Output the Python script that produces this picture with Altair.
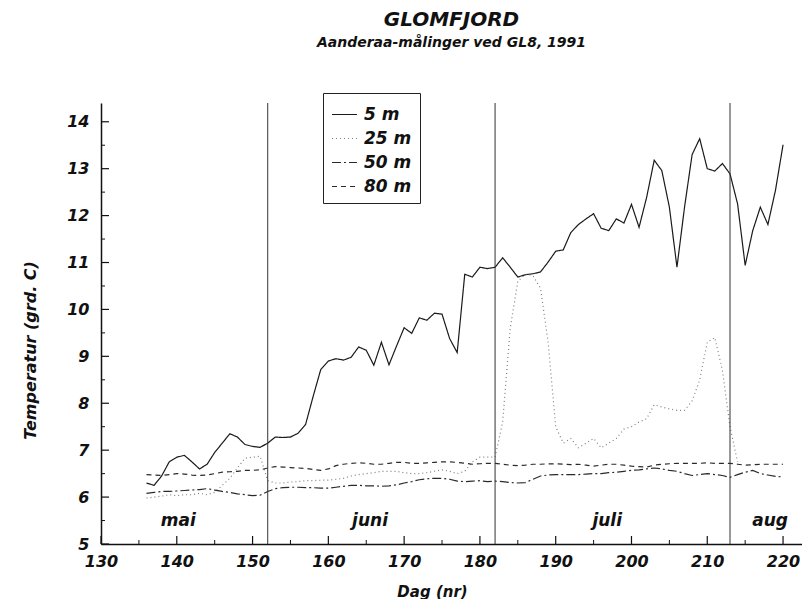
import altair as alt
import pandas as pd

FONT = "DejaVu Sans"

series = ["5 m", "25 m", "50 m", "80 m"]
series_colors = ["#1a1a1a", "#808080", "#2a2a2a", "#2a2a2a"]
series_dash = [[1, 0], [1, 3], [9, 3, 2, 3], [5, 4]]

days = list(range(136, 221))
t5 = [6.30, 6.25, 6.45, 6.75, 6.85, 6.89, 6.75, 6.60, 6.70, 6.95,
      7.15, 7.35, 7.28, 7.12, 7.08, 7.06, 7.15, 7.28, 7.27, 7.28,
      7.36, 7.55, 8.15, 8.72, 8.90, 8.95, 8.92, 8.98, 9.20, 9.13,
      8.81, 9.30, 8.82, 9.22, 9.61, 9.49, 9.82, 9.77, 9.92, 9.90,
      9.38, 9.08, 10.75, 10.69, 10.90, 10.87, 10.90, 11.10, 10.90, 10.69,
      10.74, 10.76, 10.80, 11.01, 11.24, 11.27, 11.64, 11.81, 11.93, 12.04,
      11.73, 11.68, 11.93, 11.84, 12.24, 11.75, 12.39, 13.18, 12.96, 12.18,
      10.90, 12.18, 13.30, 13.64, 13.00, 12.95, 13.11, 12.89, 12.25, 10.94,
      11.68, 12.18, 11.81, 12.54, 13.51]

days25 = list(range(136, 215))
t25 = [5.98, 6.00, 6.02, 6.05, 6.03, 6.05, 6.05, 6.08, 6.05, 6.10,
       6.25, 6.40, 6.62, 6.83, 6.85, 6.87, 6.35, 6.30, 6.30, 6.32,
       6.33, 6.35, 6.35, 6.36, 6.36, 6.38, 6.40, 6.45, 6.48, 6.50,
       6.52, 6.55, 6.55, 6.55, 6.52, 6.50, 6.50, 6.52, 6.55, 6.58,
       6.55, 6.50, 6.55, 6.75, 6.85, 6.85, 6.85, 7.60, 9.60, 10.60,
       10.75, 10.72, 10.45, 9.30, 7.50, 7.15, 7.25, 7.05, 7.15, 7.25,
       7.05, 7.15, 7.25, 7.45, 7.50, 7.60, 7.67, 7.97, 7.92, 7.88,
       7.85, 7.85, 8.05, 8.50, 9.30, 9.40, 8.70, 7.50, 6.75]

t50 = [6.08, 6.10, 6.12, 6.12, 6.13, 6.14, 6.15, 6.16, 6.18, 6.15,
       6.12, 6.10, 6.07, 6.05, 6.03, 6.04, 6.12, 6.18, 6.20, 6.21,
       6.21, 6.20, 6.20, 6.19, 6.19, 6.21, 6.23, 6.25, 6.25, 6.24,
       6.24, 6.23, 6.24, 6.26, 6.30, 6.33, 6.37, 6.39, 6.40, 6.40,
       6.38, 6.34, 6.33, 6.34, 6.35, 6.33, 6.34, 6.33, 6.31, 6.30,
       6.31, 6.38, 6.45, 6.47, 6.48, 6.48, 6.48, 6.48, 6.49, 6.50,
       6.50, 6.52, 6.53, 6.55, 6.57, 6.58, 6.60, 6.62, 6.60, 6.57,
       6.55, 6.50, 6.46, 6.48, 6.50, 6.48, 6.46, 6.42, 6.48, 6.53,
       6.57, 6.50, 6.47, 6.44, 6.43]

t80 = [6.48, 6.47, 6.46, 6.48, 6.50, 6.49, 6.47, 6.46, 6.47, 6.50,
       6.53, 6.54, 6.55, 6.57, 6.57, 6.58, 6.62, 6.65, 6.64, 6.63,
       6.62, 6.61, 6.59, 6.57, 6.60, 6.67, 6.70, 6.72, 6.73, 6.72,
       6.70, 6.70, 6.72, 6.74, 6.74, 6.72, 6.72, 6.73, 6.74, 6.75,
       6.75, 6.74, 6.72, 6.70, 6.71, 6.72, 6.72, 6.70, 6.68, 6.67,
       6.68, 6.70, 6.70, 6.71, 6.71, 6.70, 6.69, 6.70, 6.68, 6.66,
       6.68, 6.70, 6.70, 6.68, 6.66, 6.65, 6.64, 6.68, 6.70, 6.71,
       6.72, 6.72, 6.72, 6.72, 6.73, 6.72, 6.72, 6.72, 6.70, 6.68,
       6.69, 6.70, 6.70, 6.70, 6.70]

month_starts = [152, 182, 213]
month_names = ["mai", "juni", "juli", "aug"]
month_label_days = [140.2, 165.5, 196.8, 218.3]
month_label_temp = 5.5

x_major = list(range(130, 221, 10))
x_minor = list(range(135, 221, 10))
y_major = list(range(5, 15))
y_minor = [v + 0.5 for v in range(5, 14)]

W, H = 701, 441

rows = []
for name, dd, vals in [("5 m", days, t5), ("25 m", days25, t25),
                       ("50 m", days, t50), ("80 m", days, t80)]:
    for d, v in zip(dd, vals):
        rows.append({"Dag": d, "T": v, "Dybde": name})
df = pd.DataFrame(rows)

xs = alt.Scale(domain=[130, 222.5], nice=False, zero=False)
ys = alt.Scale(domain=[5, 14.4], nice=False, zero=False)

txt = dict(font=FONT, fontStyle="italic", fontWeight="bold")

xaxis = alt.Axis(values=x_major, ticks=False, grid=False, domainColor="#111",
                 domainWidth=1.5, labelFont=FONT, labelFontSize=16,
                 labelFontStyle="italic", labelFontWeight="bold", labelColor="#111",
                 labelPadding=9, labelFlush=False, labelOverlap=False, format="d",
                 titleFont=FONT, titleFontSize=15, titleFontStyle="italic",
                 titleFontWeight="bold", titleColor="#111", titleX=331, titleY=47,
                 titleBaseline="middle", titleAlign="center")
yaxis = alt.Axis(values=y_major, ticks=False, grid=False, domainColor="#111",
                 domainWidth=1.5, labelFont=FONT, labelFontSize=16,
                 labelFontStyle="italic", labelFontWeight="bold", labelColor="#111",
                 labelPadding=12, labelOverlap=False, format="d",
                 titleFont=FONT, titleFontSize=16, titleFontStyle="italic",
                 titleFontWeight="bold", titleColor="#111", titleX=-71, titleY=247,
                 titleBaseline="middle", titleAlign="center", titleAngle=270)

XT = "Dag (nr)"
YT = "Temperatur (grd. C)"

legend = alt.Legend(title=None, orient="none", legendX=222, legendY=-10,
                    direction="vertical", strokeColor="#222", fillColor="white",
                    padding=8, symbolType="stroke", symbolSize=625,
                    symbolStrokeWidth=1.2, labelFont=FONT, labelFontSize=17,
                    labelFontStyle="italic", labelFontWeight="bold",
                    labelColor="#111", rowPadding=2, labelOffset=6,
                    labelExpr="datum.label == '5 m' ? '\u2007' + datum.label : datum.label")

lines = alt.Chart(df).mark_line(strokeWidth=1.2).encode(
    x=alt.X("Dag:Q", scale=xs, axis=xaxis, title=XT),
    y=alt.Y("T:Q", scale=ys, axis=yaxis, title=YT),
    color=alt.Color("Dybde:N", scale=alt.Scale(domain=series, range=series_colors), legend=legend),
    strokeDash=alt.StrokeDash("Dybde:N", scale=alt.Scale(domain=series, range=series_dash), legend=legend),
)

month_rules = alt.Chart(pd.DataFrame({"Dag": month_starts})).mark_rule(
    color="#333", strokeWidth=1).encode(
    x=alt.X("Dag:Q", scale=xs, axis=xaxis, title=XT))

month_text = alt.Chart(pd.DataFrame({"Dag": month_label_days, "T": [month_label_temp] * 4,
                                     "lbl": month_names})).mark_text(
    fontSize=17, color="#111", **txt).encode(
    x=alt.X("Dag:Q", scale=xs, axis=xaxis, title=XT),
    y=alt.Y("T:Q", scale=ys, axis=yaxis, title=YT),
    text="lbl:N")

ytick_major = alt.Chart(pd.DataFrame({"T": y_major})).mark_rule(color="#111", strokeWidth=1.2).encode(
    y=alt.Y("T:Q", scale=ys, axis=yaxis, title=YT),
    x=alt.value(0), x2=alt.value(8))
ytick_minor = alt.Chart(pd.DataFrame({"T": y_minor})).mark_rule(color="#111", strokeWidth=1).encode(
    y=alt.Y("T:Q", scale=ys, axis=yaxis, title=YT),
    x=alt.value(0), x2=alt.value(4))
xtick_major = alt.Chart(pd.DataFrame({"Dag": x_major})).mark_rule(color="#111", strokeWidth=1.2).encode(
    x=alt.X("Dag:Q", scale=xs, axis=xaxis, title=XT),
    y=alt.value(H), y2=alt.value(H - 8))
xtick_minor = alt.Chart(pd.DataFrame({"Dag": x_minor})).mark_rule(color="#111", strokeWidth=1).encode(
    x=alt.X("Dag:Q", scale=xs, axis=xaxis, title=XT),
    y=alt.value(H), y2=alt.value(H - 4))

chart = alt.layer(lines, month_rules, ytick_major, ytick_minor, xtick_major,
                  xtick_minor, month_text).properties(
    width=W, height=H,
    title=alt.TitleParams(text="GLOMFJORD", subtitle="Aanderaa-målinger ved GL8, 1991",
                          font=FONT, fontSize=20, fontStyle="italic", fontWeight="bold",
                          color="#111", subtitleFont=FONT, subtitleFontSize=14,
                          subtitleFontStyle="italic", subtitleFontWeight="bold",
                          subtitleColor="#111", subtitlePadding=6, anchor="middle",
                          frame="group", offset=43),
    autosize=alt.AutoSizeParams(type="none"),
    padding={"left": 93, "top": 95, "right": 0, "bottom": 55},
    background="white",
).configure_view(stroke=None)

chart.save("out.html", embed_options={"renderer": "svg", "actions": False})
